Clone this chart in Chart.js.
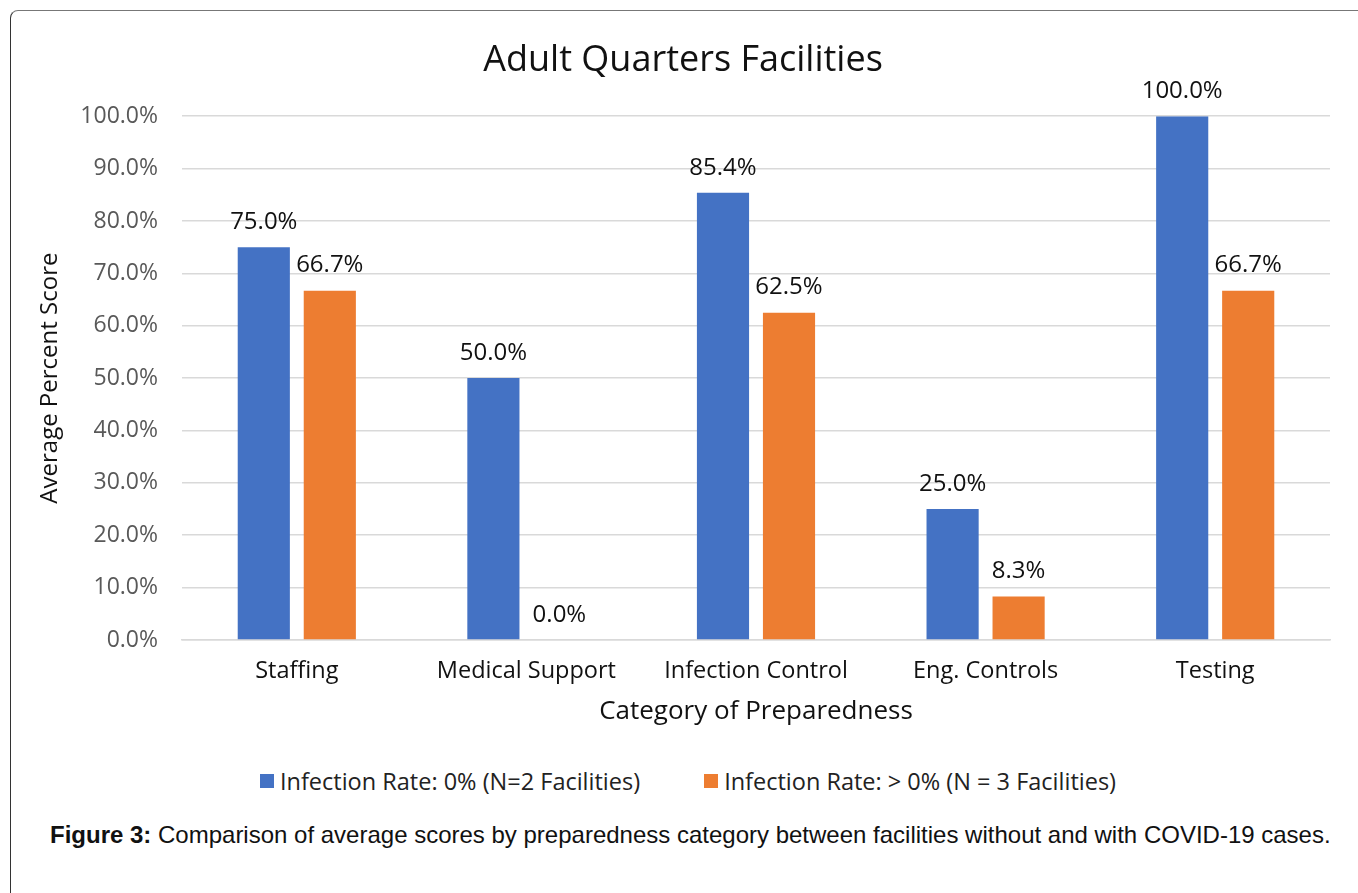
<!DOCTYPE html>
<html>
<head>
<meta charset="utf-8">
<script src="https://cdn.jsdelivr.net/npm/chart.js@4.4.0/dist/chart.umd.min.js"></script>
<style>
  html, body { margin: 0; padding: 0; background: #fff; }
  body { width: 1358px; height: 893px; position: relative; overflow: hidden; font-family: 'Open Sans', sans-serif; }
  .frame {
    position: absolute; left: 10px; top: 10px; width: 1400px; height: 950px;
    border-left: 1.5px solid #333; border-top: 1.5px solid #777;
    border-top-left-radius: 8px;
  }
  #chart-wrap { position: absolute; left: 0; top: 0; width: 1358px; height: 740px; }
  .legend {
    position: absolute; left: 9px; top: 766px; width: 1358px;
    display: flex; justify-content: center; gap: 64px;
    font-size: 23.5px; color: #222; line-height: 30px;
  }
  .legend-item { display: flex; align-items: center; }
  .legend-swatch { width: 14px; height: 14px; margin-right: 6px; }
  .caption {
    position: absolute; left: 50px; top: 821px;
    font-family: 'Liberation Sans', Arial, sans-serif; font-size: 24px; color: #111;
    white-space: nowrap;
  }
</style>
</head>
<body>
<div class="frame"></div>
<div id="chart-wrap"><canvas id="chart" width="1358" height="740"></canvas></div>
<div class="legend" id="legend"></div>
<div class="caption"><b>Figure 3:</b> Comparison of average scores by preparedness category between facilities without and with COVID-19 cases.</div>

<script>
// Adult Quarters Facilities — average preparedness scores by infection rate

const categories = ['Staffing', 'Medical Support', 'Infection Control', 'Eng. Controls', 'Testing'];
const seriesNames = ['Infection Rate: 0% (N=2 Facilities)', 'Infection Rate: > 0% (N = 3 Facilities)'];
const zeroInfection = [75.0, 50.0, 85.4, 25.0, 100.0];
const someInfection = [66.7, 0.0, 62.5, 8.3, 66.7];
const yTicks = [0, 10, 20, 30, 40, 50, 60, 70, 80, 90, 100];

const BLUE = '#4472C4';
const ORANGE = '#ED7D31';
const FONT = "'Open Sans', sans-serif";

// value labels above each bar
const barLabels = {
  id: 'barLabels',
  afterDatasetsDraw(chart) {
    const { ctx } = chart;
    ctx.save();
    ctx.font = `24px ${FONT}`;
    ctx.fillStyle = '#111';
    ctx.textAlign = 'center';
    ctx.textBaseline = 'middle';
    chart.data.datasets.forEach((ds, i) => {
      chart.getDatasetMeta(i).data.forEach((bar, j) => {
        ctx.fillText(ds.data[j].toFixed(1) + '%', bar.x, bar.y - 25);
      });
    });
    ctx.restore();
  }
};

new Chart(document.getElementById('chart'), {
  type: 'bar',
  data: {
    labels: categories,
    datasets: [
      { label: seriesNames[0], data: zeroInfection, backgroundColor: BLUE },
      { label: seriesNames[1], data: someInfection, backgroundColor: ORANGE }
    ]
  },
  options: {
    responsive: false,
    animation: false,
    layout: { padding: { left: 36, right: 28, top: 0, bottom: 0 } },
    datasets: { bar: { categoryPercentage: 0.575, barPercentage: 0.79 } },
    plugins: {
      legend: { display: false },
      tooltip: { enabled: false },
      title: {
        display: true,
        text: 'Adult Quarters Facilities',
        color: '#111',
        font: { size: 36, family: FONT, weight: 'normal' },
        padding: { top: 39, bottom: 34 }
      }
    },
    scales: {
      x: {
        grid: { display: false, drawTicks: false },
        border: { display: true, color: '#d9d9d9', width: 1.5 },
        ticks: { color: '#111', font: { size: 23.5, family: FONT }, padding: 17, maxRotation: 0 },
        title: {
          display: true, text: 'Category of Preparedness', color: '#111',
          font: { size: 26, family: FONT }, padding: { top: 0, bottom: 13 }
        },
        afterFit(scale) { scale.height = 100; }
      },
      y: {
        min: 0, max: 100,
        afterBuildTicks(scale) { scale.ticks = yTicks.map(v => ({ value: v })); },
        grid: { color: '#d9d9d9', lineWidth: 1.5, drawTicks: false },
        border: { display: false },
        ticks: {
          color: '#595959', font: { size: 23, family: FONT }, padding: 24,
          callback: v => v.toFixed(1) + '%'
        },
        title: {
          display: true, text: 'Average Percent Score', color: '#111',
          font: { size: 24, family: FONT }, padding: { top: 0, bottom: 0 }
        },
        afterFit(scale) { scale.width = 146; }
      }
    }
  },
  plugins: [barLabels]
});

// html legend below the chart
document.getElementById('legend').innerHTML = seriesNames.map((name, i) => `
  <div class="legend-item">
    <span class="legend-swatch" style="background:${[BLUE, ORANGE][i]}"></span>
    <span>${name}</span>
  </div>`).join('');
</script>
</body>
</html>
